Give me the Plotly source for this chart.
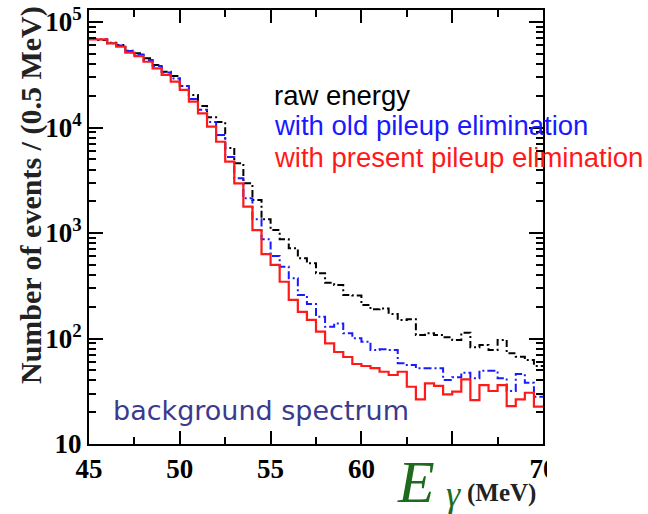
import numpy as np
import plotly.graph_objects as go

# 0.5 MeV bins from 45 to 70 MeV
bin_edges = np.arange(45.0, 70.0001, 0.5)

raw_energy = [70000, 67500, 63700, 60500, 53400, 50500, 45300, 39100, 33800, 30800,
              24700, 20300, 16000, 12500, 11300, 6390, 4580, 2960, 2055, 1349,
              1067, 871, 716, 576, 516, 415, 338, 321, 258, 255,
              208, 189, 193, 171, 150, 152, 108, 112, 108, 102.6,
              96.8, 113.5, 82.6, 86.8, 77.8, 96.8, 72.4, 67.2, 62.6, 54.9]

old_pileup = [69000, 68500, 63000, 59900, 53100, 49200, 43600, 38300, 33200, 29100,
              24700, 18600, 14700, 11300, 8490, 5250, 3300, 2130, 1349, 871,
              605, 480, 372, 258, 212, 161, 129, 139, 112, 100.5,
              93.3, 77.8, 79.0, 77.8, 58.2, 56.1, 52.2, 52.2, 52.2, 40.4,
              42.9, 47.4, 42.0, 49.5, 49.5, 42.0, 31.8, 46.1, 38.1, 28.1]

present_pileup = [68500, 68500, 62800, 58300, 51200, 47600, 42000, 36400, 31500, 27200,
                  22700, 17600, 13600, 10200, 7330, 4740, 2960, 1775, 1067, 632,
                  498, 345, 232, 179, 150, 116, 90, 74.5, 66.8, 57.3,
                  54.9, 52.5, 48.4, 45.1, 48.4, 34.9, 26.5, 37.6, 35.5, 29.6,
                  31.3, 41.0, 26.1, 36.2, 31.8, 36.2, 22.9, 26.5, 30.6, 22.6]

legend_labels = ["raw energy", "with old pileup elimination", "with present pileup elimination"]
x_tick_vals = [45, 50, 55, 60, 65, 70]
x_tick_text = ["45", "50", "55", "60", "", "70"]
y_tick_vals = [10, 100, 1000, 10000, 100000]
y_tick_text = ["10", "10<sup>2</sup>", "10<sup>3</sup>", "10<sup>4</sup>", "10<sup>5</sup>"]


def step_y(vals):
    return list(vals) + [vals[-1]]


fig = go.Figure()
series = [
    (raw_energy, "black", "7px,3px,2px,3px", 2),
    (old_pileup, "#1a1aff", "8px,3px,2px,3px", 2),
    (present_pileup, "#ff1a1a", "solid", 2.2),
]
for vals, color, dash, width in series:
    fig.add_trace(go.Scatter(
        x=bin_edges, y=step_y(vals), mode="lines",
        line=dict(shape="hv", color=color, dash=dash, width=width),
        showlegend=False, hoverinfo="skip"))

L, R, T, B = 89, 543, 10, 444
W, H = 648, 514
pw, ph = R - L, B - T


def px(x):
    return (x - L) / pw


def py(y):
    return (B - y) / ph


tick_font = dict(family="Liberation Serif", size=27, color="black", weight="bold")

fig.update_layout(
    width=W, height=H,
    margin=dict(l=L, r=W - R, t=T, b=H - B, autoexpand=False),
    paper_bgcolor="white", plot_bgcolor="white",
    showlegend=False,
)
fig.update_xaxes(
    range=[45, 70], showline=True, linecolor="black", linewidth=2, mirror="ticks",
    ticks="inside", ticklen=13, tickwidth=2, tickcolor="black",
    tickvals=x_tick_vals, ticktext=x_tick_text, tickfont=tick_font,
    minor=dict(tickvals=[47.5, 52.5, 57.5, 62.5, 67.5], ticks="inside", ticklen=7,
               tickwidth=2, tickcolor="black", showgrid=False),
    showgrid=False, zeroline=False, automargin=False,
)
minor_y = [m * 10 ** d for d in range(1, 5) for m in range(2, 10)] + [2e5]
fig.update_yaxes(
    type="log", range=[1, 5.114], showline=True, linecolor="black", linewidth=2,
    mirror="ticks", ticks="inside", ticklen=14, tickwidth=2, tickcolor="black",
    tickvals=y_tick_vals, ticktext=y_tick_text, tickfont=tick_font,
    minor=dict(tickvals=minor_y, ticks="inside", ticklen=7, tickwidth=2,
               tickcolor="black", showgrid=False),
    showgrid=False, zeroline=False, automargin=False,
)

annotations = [
    dict(text="<b>Number of events / (0.5 MeV)</b>", x=px(31), y=py(195), textangle=-90,
         font=dict(family="Liberation Serif", size=30, color="#222222")),
    dict(text=legend_labels[0], x=px(272), y=py(95), xanchor="left",
         font=dict(family="Liberation Sans", size=27.5, color="black")),
    dict(text=legend_labels[1], x=px(272), y=py(126), xanchor="left",
         font=dict(family="Liberation Sans", size=27.5, color="#1a1aff")),
    dict(text=legend_labels[2], x=px(272), y=py(157), xanchor="left",
         font=dict(family="Liberation Sans", size=27.5, color="#ff1a1a")),
    dict(text="background spectrum", x=px(111), y=py(410), xanchor="left",
         font=dict(family="DejaVu Sans", size=27, color="#3a3a8e")),
    dict(text="<i>E</i>", x=px(395), y=py(482), xanchor="left",
         font=dict(family="Liberation Serif", size=60, color="#1e6b1e")),
    dict(text="<i>γ</i>", x=px(444), y=py(494), xanchor="left",
         font=dict(family="Liberation Serif", size=36, color="#1e6b1e")),
    dict(text="<b>(MeV)</b>", x=px(465), y=py(493), xanchor="left",
         font=dict(family="Liberation Serif", size=25, color="#222222")),
]
for a in annotations:
    a.update(xref="paper", yref="paper", showarrow=False, yanchor="middle")
    a.setdefault("xanchor", "center")
fig.update_layout(annotations=annotations)

# the reference is cropped just right of the frame, hiding half of the "70" label
fig.add_shape(type="rect", xref="paper", yref="paper", layer="above",
              x0=px(547), x1=px(600), y0=py(452), y1=py(478),
              fillcolor="white", line=dict(width=0))

fig.write_html("out.html", config={"displayModeBar": False},
               post_script="document.body.style.margin='0';")
